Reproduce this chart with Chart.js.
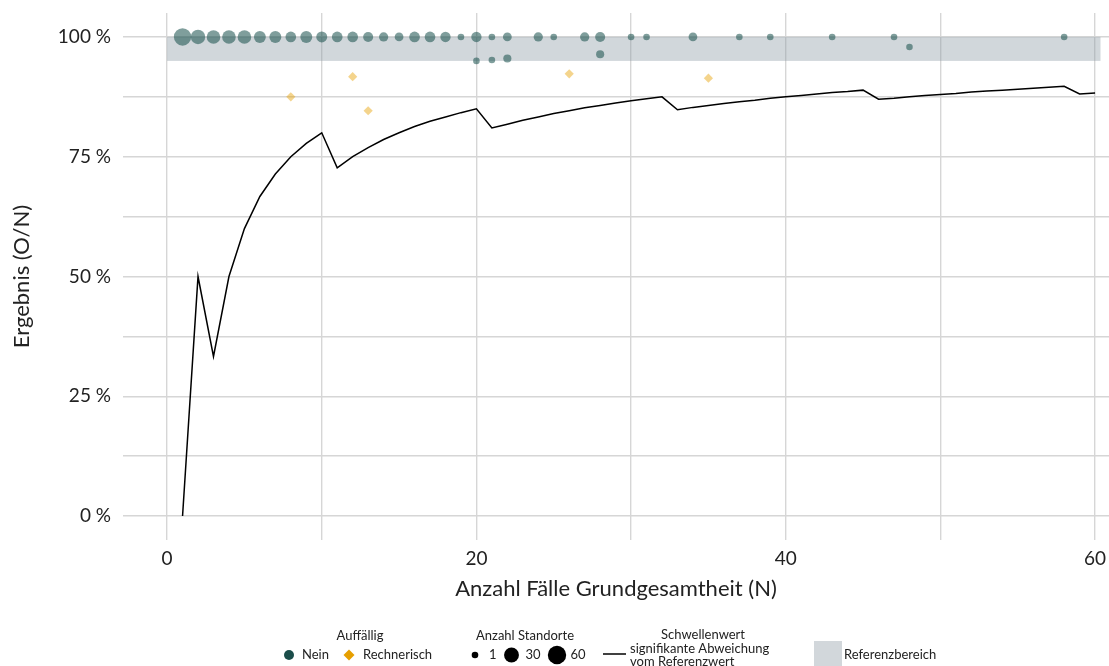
<!DOCTYPE html>
<html>
<head>
<meta charset="utf-8">
<script src="https://cdn.jsdelivr.net/npm/chart.js@4.4.1/dist/chart.umd.min.js"></script>
<style>
    html, body { margin: 0; padding: 0; background: #fff; }
    #wrap { width: 1109px; height: 666px; }
</style>
</head>
<body>
<div id="wrap"><canvas id="chart" width="1109" height="666"></canvas></div>
<script>
// Schwellenwert (signifikante Abweichung vom Referenzwert), N = 1..60
const thresholdN = [
    1, 2, 3, 4, 5, 6, 7, 8, 9, 10, 11, 12, 13, 14, 15, 16, 17, 18, 19, 20,
    21, 22, 23, 24, 25, 26, 27, 28, 29, 30, 31, 32, 33, 34, 35, 36, 37, 38, 39, 40,
    41, 42, 43, 44, 45, 46, 47, 48, 49, 50, 51, 52, 53, 54, 55, 56, 57, 58, 59, 60
];
const thresholdPct = [
    0, 50, 33.3, 50, 60, 66.7, 71.4, 75, 77.8, 80, 72.7, 75, 76.9, 78.6, 80, 81.3, 82.4, 83.3, 84.2, 85,
    81, 81.8, 82.6, 83.3, 84, 84.6, 85.2, 85.7, 86.2, 86.7, 87.1, 87.5, 84.8, 85.3, 85.7, 86.1, 86.5, 86.8, 87.2, 87.5,
    87.8, 88.1, 88.4, 88.6, 88.9, 87, 87.2, 87.5, 87.8, 88, 88.2, 88.5, 88.7, 88.9, 89.1, 89.3, 89.5, 89.7, 88.1, 88.3
];

// Auffällig: Nein
const neinN = [1, 2, 3, 4, 5, 6, 7, 8, 9, 10, 11, 12, 13, 14, 15, 16, 17, 18, 19, 20,
    20, 21, 21, 22, 22, 24, 25, 27, 28, 28, 30, 31, 34, 37, 39, 43, 47, 48, 58];
const neinPct = [100, 100, 100, 100, 100, 100, 100, 100, 100, 100, 100, 100, 100, 100, 100, 100, 100, 100, 100, 100,
    95, 100, 95.2, 100, 95.5, 100, 100, 100, 100, 96.4, 100, 100, 100, 100, 100, 100, 100, 97.9, 100];
const neinCount = [50, 27, 22, 22, 22, 13, 13, 8, 13, 9, 8, 8, 6, 4, 3, 8, 8, 7, 1, 7,
    1, 1, 1, 3, 2, 4, 1, 4, 6, 2, 1, 1, 3, 1, 1, 1, 1, 1, 1];

// Auffällig: Rechnerisch
const rechnN = [8, 12, 13, 26, 35];
const rechnPct = [87.5, 91.7, 84.6, 92.3, 91.4];

// Referenzbereich
const refPct = [95, 100];
const refN = [0, 60.35];

// Achsen
const xGridTicks = [0, 10, 20, 30, 40, 50, 60];
const xLabelTicks = [0, 20, 40, 60];
const yGridTicks = [0, 12.5, 25, 37.5, 50, 62.5, 75, 87.5, 100];
const yLabelTicks = [0, 25, 50, 75, 100];
const legendSizes = [1, 30, 60];

const TEAL = '#1b4d4a';
const TEAL_A = 'rgba(22, 78, 74, 0.55)';
const ORANGE = '#e69f00';
const ORANGE_A = 'rgba(230, 159, 0, 0.45)';
const BAND = 'rgba(140, 155, 165, 0.4)';
const GRID = '#d6d6d6';
const TEXT = '#222';

// area-style size scale: Anzahl Standorte -> radius in px
function sizeToRadius(n) {
    return 3.3 + 5.9 * Math.sqrt((n - 1) / 59);
}

Chart.defaults.font.family = 'Lato';

// Referenzbereich as a translucent band behind the points
const bandPlugin = {
    id: 'band',
    beforeDatasetsDraw(chart) {
        const { ctx, scales: { x, y } } = chart;
        const x0 = x.getPixelForValue(refN[0]);
        const x1 = x.getPixelForValue(refN[1]);
        const y0 = y.getPixelForValue(refPct[1]);
        const y1 = y.getPixelForValue(refPct[0]);
        ctx.save();
        ctx.fillStyle = BAND;
        ctx.fillRect(x0, y0, x1 - x0, y1 - y0);
        ctx.restore();
    }
};

// ggplot-style legend row under the chart
const legendPlugin = {
    id: 'customLegend',
    afterDraw(chart) {
        const ctx = chart.ctx;
        ctx.save();
        ctx.font = '13px Lato';
        ctx.fillStyle = TEXT;
        ctx.textBaseline = 'middle';

        const rowY = 655;
        const titleY = 636;

        // Auffällig
        ctx.textAlign = 'center';
        ctx.fillText('Auffällig', 360, titleY);
        ctx.textAlign = 'left';
        ctx.fillStyle = TEAL;
        ctx.beginPath();
        ctx.arc(289, rowY, 5, 0, Math.PI * 2);
        ctx.fill();
        ctx.fillStyle = TEXT;
        ctx.fillText('Nein', 302, rowY);
        ctx.fillStyle = ORANGE;
        ctx.beginPath();
        ctx.moveTo(349, rowY - 5.5);
        ctx.lineTo(354.5, rowY);
        ctx.lineTo(349, rowY + 5.5);
        ctx.lineTo(343.5, rowY);
        ctx.closePath();
        ctx.fill();
        ctx.fillStyle = TEXT;
        ctx.fillText('Rechnerisch', 363, rowY);

        // Anzahl Standorte
        ctx.textAlign = 'center';
        ctx.fillText('Anzahl Standorte', 525, titleY);
        ctx.textAlign = 'left';
        const dotX = [475, 511.5, 557];
        const labX = [489, 525.5, 570.5];
        legendSizes.forEach((n, i) => {
            ctx.fillStyle = '#000';
            ctx.beginPath();
            ctx.arc(dotX[i], rowY, sizeToRadius(n), 0, Math.PI * 2);
            ctx.fill();
            ctx.fillStyle = TEXT;
            ctx.fillText(String(n), labX[i], rowY);
        });

        // Schwellenwert
        ctx.textAlign = 'center';
        ctx.fillText('Schwellenwert', 703, titleY - 1);
        ctx.textAlign = 'left';
        ctx.strokeStyle = '#000';
        ctx.lineWidth = 1.5;
        ctx.beginPath();
        ctx.moveTo(603, 654);
        ctx.lineTo(626, 654);
        ctx.stroke();
        ctx.fillText('signifikante Abweichung', 630, 648.5);
        ctx.fillText('vom Referenzwert', 630, 662);

        // Referenzbereich
        ctx.fillStyle = '#d2d7db';
        ctx.fillRect(814, 641, 28, 28);
        ctx.fillStyle = TEXT;
        ctx.fillText('Referenzbereich', 844, rowY);

        ctx.restore();
    }
};

function initChart() {
    const ctx = document.getElementById('chart').getContext('2d');

    const neinData = neinN.map((n, i) => ({ x: n, y: neinPct[i], r: sizeToRadius(neinCount[i]) }));
    const rechnData = rechnN.map((n, i) => ({ x: n, y: rechnPct[i] }));
    const lineData = thresholdN.map((n, i) => ({ x: n, y: thresholdPct[i] }));

    new Chart(ctx, {
        data: {
            datasets: [
                {
                    type: 'bubble',
                    label: 'Nein',
                    data: neinData,
                    backgroundColor: TEAL_A,
                    borderWidth: 0,
                },
                {
                    type: 'scatter',
                    label: 'Rechnerisch',
                    data: rechnData,
                    pointStyle: 'rectRot',
                    pointRadius: 4.6,
                    backgroundColor: ORANGE_A,
                    borderWidth: 0,
                },
                {
                    type: 'line',
                    label: 'Schwellenwert',
                    data: lineData,
                    borderColor: '#000',
                    borderWidth: 1.5,
                    pointRadius: 0,
                    tension: 0,
                    fill: false,
                }
            ]
        },
        options: {
            responsive: false,
            animation: false,
            devicePixelRatio: 1,
            events: [],
            layout: {
                autoPadding: false,
                padding: { left: 0, top: 13, right: 0, bottom: 60 }
            },
            plugins: {
                legend: { display: false },
                tooltip: { enabled: false }
            },
            scales: {
                x: {
                    type: 'linear',
                    bounds: 'data',
                    min: -2.85,
                    max: 60.9,
                    afterBuildTicks: s => { s.ticks = xGridTicks.map(v => ({ value: v })); },
                    afterFit: s => {
                        s.height = 66;
                        s.paddingLeft = 0;
                        s.paddingRight = 0;
                    },
                    ticks: {
                        autoSkip: false,
                        maxRotation: 0,
                        padding: 7,
                        color: TEXT,
                        font: { size: 19 },
                        callback: v => xLabelTicks.includes(v) ? String(v) : ''
                    },
                    grid: { color: GRID, lineWidth: 1.4, drawTicks: false },
                    border: { display: false },
                    title: {
                        display: true,
                        text: 'Anzahl Fälle Grundgesamtheit (N)',
                        color: TEXT,
                        font: { size: 22 },
                        padding: { top: 0, bottom: 4 }
                    }
                },
                y: {
                    type: 'linear',
                    bounds: 'data',
                    min: -5,
                    max: 105,
                    afterBuildTicks: s => { s.ticks = yGridTicks.map(v => ({ value: v })); },
                    afterFit: s => {
                        s.width = 123;
                        s.paddingTop = 0;
                        s.paddingBottom = 0;
                    },
                    ticks: {
                        autoSkip: false,
                        padding: 12,
                        color: TEXT,
                        font: { size: 19 },
                        callback: v => yLabelTicks.includes(v) ? v + ' %' : ''
                    },
                    grid: { color: GRID, lineWidth: 1.4, drawTicks: false },
                    border: { display: false },
                    title: {
                        display: true,
                        text: 'Ergebnis (O/N)',
                        color: TEXT,
                        font: { size: 22 },
                        padding: { top: 9, bottom: 0 }
                    }
                }
            }
        },
        plugins: [bandPlugin, legendPlugin]
    });
}

document.addEventListener('DOMContentLoaded', initChart);
</script>
</body>
</html>
